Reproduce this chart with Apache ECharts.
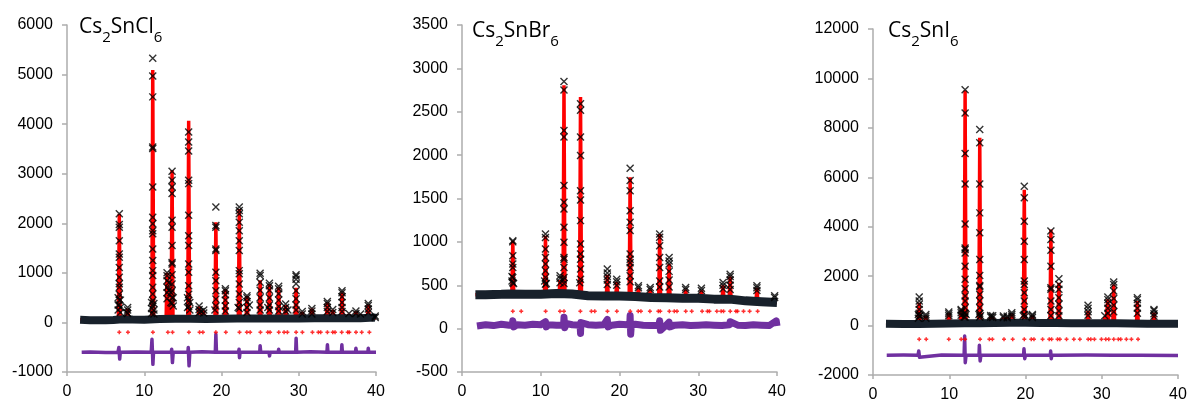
<!DOCTYPE html>
<html>
<head>
<meta charset="utf-8">
<script src="https://cdn.jsdelivr.net/npm/echarts@6/dist/echarts.min.js"></script>
<style>
html,body{margin:0;padding:0;background:#fff;}
#c{width:1190px;height:403px;}
</style>
</head>
<body>
<div id="c"></div>
<script>
// ---------- Panel 1: Cs2SnCl6 ----------
var p1ObsBg = [[1.7,55],[3,45],[5,45],[6,50],[7.2,65],[8.5,60],[10,55],[12,70],[14,75],[16,75],[18,70],[20,75],[22,80],[24,80],[26,80],[28,80],[30,80],[32,85],[34,85],[36,85],[38,85],[39.8,100],[40,90]];
var p1ObsPk = [
 [6.77,2190],[6.77,1975],[6.77,1920],[6.77,1650],[6.77,1380],[6.77,1315],[6.77,1110],[6.77,910],[6.77,780],[6.77,710],[6.77,570],[6.77,450],[6.77,350],[6.62,500],[6.62,350],[6.62,250],[6.92,450],[6.92,300],[6.92,200],
 [7.85,300],[7.85,250],[7.85,180],[7.75,200],
 [11.1,5330],[11.1,4970],[11.1,4550],[11.1,3540],[11.1,3510],[11.1,2730],[11.1,2120],[11.1,1990],[11.1,1850],[11.1,1790],[11.1,1480],[11.1,1250],[11.1,1045],[11.1,945],[11.1,710],[11.1,575],[11.1,440],[11.1,330],[10.95,400],[10.95,280],[10.95,180],[11.25,380],[11.25,250],[11.25,170],
 [12.95,1000],[12.95,940],[12.95,840],[12.95,710],[12.95,600],[12.95,480],[13.2,800],[13.2,650],
 [13.6,3050],[13.6,2870],[13.6,2730],[13.6,2600],[13.6,2060],[13.6,1920],[13.6,1550],[13.6,1210],[13.6,1180],[13.6,960],[13.6,775],[13.6,640],[13.6,500],[13.6,380],[13.45,600],[13.45,400],[13.75,500],[13.75,330],
 [15.75,3840],[15.75,3640],[15.75,3460],[15.75,2870],[15.75,2800],[15.75,2160],[15.75,1750],[15.75,1550],[15.75,1180],[15.75,1010],[15.75,740],[15.75,570],[15.75,440],[15.75,320],[15.6,500],[15.6,300],[15.9,400],[15.9,250],
 [17.1,330],[17.1,260],[17.1,200],[17.7,250],[17.7,190],[17.35,220],
 [19.27,2330],[19.27,1955],[19.27,1920],[19.27,1480],[19.27,1450],[19.27,1010],[19.27,840],[19.27,640],[19.27,470],[19.27,330],[19.15,250],
 [20.5,680],[20.5,640],[20.5,560],[20.5,450],[20.5,330],[20.5,230],
 [22.3,2330],[22.3,2260],[22.3,2190],[22.3,2020],[22.3,1850],[22.3,1650],[22.3,1450],[22.3,1045],[22.3,980],[22.3,775],[22.3,575],[22.3,400],[22.3,280],[22.15,300],
 [23.3,540],[23.3,500],[23.3,420],[23.3,300],[23.3,200],[23.6,350],
 [25.0,990],[25.0,945],[25.0,810],[25.0,650],[25.0,500],[25.0,350],[25.0,250],
 [26.2,790],[26.2,740],[26.2,650],[26.2,500],[26.2,350],[26.2,250],[26.0,300],
 [27.4,730],[27.4,680],[27.4,580],[27.4,450],[27.4,320],[27.4,230],
 [28.3,370],[28.3,300],[28.3,230],[28.6,250],
 [29.65,960],[29.65,930],[29.65,870],[29.65,780],[29.65,640],[29.65,480],[29.65,350],[29.65,250],
 [30.45,220],[30.45,170],[31.7,280],[31.7,230],[31.7,170],
 [33.7,420],[33.7,380],[33.7,300],[33.7,220],[34.4,260],[34.4,200],
 [35.6,640],[35.6,600],[35.6,520],[35.6,400],[35.6,300],[35.6,220],
 [36.5,180],[37.4,230],[37.4,180],[38.0,170],
 [39.0,380],[39.0,340],[39.0,270],[39.0,200],[39.9,130],[39.9,100]
];
var p1Calc = [[1.7,55],[6.65,55],[6.77,2190],[6.89,55],[7.73,60],[7.85,280],[7.97,60],[10.98,60],[11.1,5090],[11.22,60],[12.83,70],[12.95,1000],[13.07,70],[13.48,70],[13.6,3070],[13.72,70],[15.63,75],[15.75,4066],[15.87,75],[16.98,75],[17.1,320],[17.22,75],[17.53,70],[17.65,240],[17.77,70],[19.15,75],[19.27,2020],[19.39,75],[20.38,75],[20.5,670],[20.62,75],[22.18,80],[22.3,2290],[22.42,80],[23.18,80],[23.3,530],[23.42,80],[24.88,80],[25.0,850],[25.12,80],[26.08,80],[26.2,775],[26.32,80],[27.28,80],[27.4,710],[27.52,80],[28.18,80],[28.3,350],[28.42,80],[29.53,80],[29.65,700],[29.77,80],[30.33,80],[30.45,210],[30.57,80],[31.58,85],[31.7,280],[31.82,85],[33.58,85],[33.7,400],[33.82,85],[34.28,85],[34.4,250],[34.52,85],[35.48,85],[35.6,600],[35.72,85],[36.38,85],[36.5,170],[36.62,85],[37.28,85],[37.4,220],[37.52,85],[37.88,85],[38.0,160],[38.12,85],[38.88,85],[39.0,360],[39.12,85],[40,90]];
var p1Bragg = [6.77,7.89,11.12,13.06,13.66,15.78,17.16,17.59,19.27,20.56,22.33,23.28,23.71,25.04,25.99,26.29,27.41,28.10,28.53,29.66,30.47,31.77,32.54,32.84,33.71,34.40,34.70,35.56,36.34,36.55,37.41,38.15,39.14];
var p1BraggLevel = -200;
var p1Diff = [[1.9,-600],[3,-595],[5,-605],[6.6,-600],[6.72,-505],[6.82,-740],[6.9,-600],[9,-595],[10.9,-600],[11.0,-340],[11.12,-845],[11.2,-600],[13.5,-600],[13.55,-540],[13.65,-810],[13.75,-600],[15.65,-600],[15.7,-505],[15.8,-875],[15.9,-600],[17.5,-590],[19.2,-600],[19.27,-235],[19.35,-600],[22.2,-600],[22.27,-540],[22.33,-710],[22.4,-600],[24.95,-600],[25.0,-470],[25.08,-600],[26.15,-600],[26.22,-675],[26.3,-600],[27.35,-600],[27.4,-540],[27.47,-600],[29.6,-600],[29.66,-320],[29.73,-600],[31.5,-590],[33.65,-600],[33.71,-450],[33.78,-600],[35.53,-600],[35.58,-450],[35.65,-600],[37.35,-600],[37.4,-520],[37.47,-600],[38.95,-600],[39.0,-520],[39.07,-600],[40,-600]];

// ---------- Panel 2: Cs2SnBr6 ----------
var p2ObsBg = [[1.7,390],[3,390],[5,395],[6,400],[8,395],[10,395],[12,405],[14,400],[16,380],[18,375],[20,375],[22,370],[24,360],[26,355],[28,350],[30,350],[32,340],[34,340],[36,320],[38,310],[40,300]];
var p2ObsPk = [
 [6.45,1013],[6.45,1000],[6.45,840],[6.45,744],[6.45,705],[6.45,590],[6.45,530],[6.35,600],[6.35,550],[6.55,520],
 [10.6,1090],[10.6,1050],[10.6,917],[10.6,820],[10.6,744],[10.6,667],[10.6,590],[10.6,512],[10.5,550],[10.7,520],
 [12.45,610],[12.45,580],[12.45,530],
 [12.95,2850],[12.95,2750],[12.95,2285],[12.95,2210],[12.95,1650],[12.95,1457],[12.95,1380],[12.95,1168],[12.95,995],[12.95,820],[12.95,800],[12.95,705],[12.95,590],[12.95,520],[12.85,560],
 [15.05,2593],[15.05,2516],[15.05,2210],[15.05,1996],[15.05,1590],[15.05,1484],[15.05,1245],[15.05,975],[15.05,860],[15.05,800],[15.05,686],[15.05,570],[14.95,530],
 [18.45,686],[18.45,640],[18.45,600],[18.45,560],[18.45,510],
 [19.65,570],[19.65,540],[19.65,500],
 [21.35,1850],[21.35,1707],[21.35,1590],[21.35,1360],[21.35,1225],[21.35,1130],[21.35,860],[21.35,800],[21.35,760],[21.35,705],[21.35,610],[21.35,540],
 [22.4,493],[22.4,470],[23.9,474],[23.9,450],
 [25.1,1090],[25.1,1052],[25.1,955],[25.1,820],[25.1,705],[25.1,550],[25.1,480],
 [26.3,820],[26.3,780],[26.3,744],[26.3,660],[26.3,560],[26.3,480],
 [28.4,474],[28.4,450],[30.4,466],[30.4,440],
 [33.15,532],[33.15,500],[33.15,460],
 [34.05,628],[34.05,600],[34.05,560],[34.05,500],[34.05,450],
 [37.45,493],[37.45,470],[37.45,440],[39.7,380],[39.7,360]
];
var p2Calc = [[1.7,390],[6.33,400],[6.45,1013],[6.57,400],[10.48,395],[10.6,1070],[10.72,395],[12.33,405],[12.45,560],[12.57,405],[12.83,405],[12.95,2805],[13.07,405],[14.93,400],[15.05,2670],[15.17,400],[18.33,375],[18.45,620],[18.57,375],[19.53,375],[19.65,540],[19.77,375],[21.23,370],[21.35,1745],[21.47,370],[22.28,370],[22.4,470],[22.52,370],[23.78,360],[23.9,450],[24.02,360],[24.98,355],[25.1,1090],[25.22,355],[26.18,355],[26.3,744],[26.42,355],[28.28,350],[28.4,450],[28.52,350],[30.28,350],[30.4,440],[30.52,350],[33.03,340],[33.15,500],[33.27,340],[33.93,340],[34.05,600],[34.17,340],[37.33,310],[37.45,470],[37.57,310],[40,300]];
var p2Bragg = [6.45,7.52,10.62,12.44,12.95,15.03,16.43,16.86,18.47,19.66,21.36,22.38,22.72,23.86,24.93,25.18,26.33,26.96,27.30,28.41,29.17,30.49,31.17,31.42,32.36,32.91,33.21,34.06,34.78,34.99,35.75,36.52,37.54];
var p2BraggLevel = 200;
var p2Diff = [[1.9,30],[3,45],[4,35],[5,50],[6,40],[6.4,40],[6.45,90],[6.55,20],[7,45],[8,40],[9,50],[10,45],[10.6,80],[10.7,20],[11,45],[12,40],[12.9,40],[12.95,130],[13.05,10],[13.2,60],[14,45],[15,40],[15.05,-55],[15.1,70],[16,45],[17,40],[18,45],[18.45,105],[18.55,20],[19,40],[20,50],[21,45],[21.3,40],[21.35,150],[21.42,-65],[21.5,40],[22,50],[23,40],[24,35],[25,40],[25.1,90],[25.2,-20],[26,45],[26.3,75],[26.4,20],[27,40],[28,45],[29,35],[30,40],[31,45],[32,40],[33,35],[34,45],[34.05,80],[35,40],[36,35],[37,45],[38,40],[39,35],[39.9,90],[40,30]];

// ---------- Panel 3: Cs2SnI6 ----------
var p3ObsBg = [[1.7,70],[4,60],[6,60],[8,70],[10,80],[12,90],[14,90],[16,100],[18,110],[20,110],[22,100],[24,100],[26,90],[28,90],[30,90],[32,90],[34,80],[36,70],[38,70],[40,70]];
var p3ObsPk = [
 [6.06,1155],[6.06,990],[6.06,860],[6.06,655],[6.06,500],[6.06,380],[5.95,450],[5.95,300],[6.15,400],
 [6.93,450],[6.93,380],[6.93,300],[9.94,545],[9.94,480],[9.94,400],
 [11.56,655],[11.56,600],[11.56,520],[11.56,420],
 [12.08,9545],[12.08,8600],[12.08,6960],[12.08,5730],[12.08,4110],[12.08,3140],[12.08,3075],[12.08,2940],[12.08,2400],[12.08,1870],[12.08,1490],[12.08,1195],[12.08,990],[12.08,725],[12.08,500],[12.08,350],[11.95,500],[11.95,350],[12.2,450],
 [14.0,7935],[14.0,7395],[14.0,5730],[14.0,4560],[14.0,3755],[14.0,2675],[14.0,2030],[14.0,1625],[14.0,1570],[14.0,1260],[14.0,990],[14.0,720],[14.0,500],[14.0,350],[13.9,450],[14.1,400],
 [15.44,410],[15.44,350],[15.7,400],[15.7,330],[17.1,385],[17.1,330],[17.6,380],[17.6,320],
 [18.2,520],[18.2,450],[18.2,380],
 [19.84,5640],[19.84,5170],[19.84,4225],[19.84,3415],[19.84,2675],[19.84,1800],[19.84,1665],[19.84,1330],[19.84,990],[19.84,655],[19.84,450],[19.7,400],[20.0,380],
 [20.9,450],[20.9,400],[20.9,330],
 [23.33,3825],[23.33,3485],[23.33,3050],[23.33,2400],[23.33,1530],[23.33,1465],[23.33,990],[23.33,655],[23.33,400],
 [24.38,1895],[24.38,1665],[24.38,1465],[24.38,1130],[24.38,860],[24.38,590],[24.38,400],
 [28.2,820],[28.2,700],[28.2,560],[28.2,420],[30.4,400],
 [30.8,1155],[30.8,1050],[30.8,900],[30.8,700],[30.8,500],
 [31.57,1760],[31.57,1665],[31.57,1400],[31.57,1100],[31.57,820],[31.57,560],
 [34.67,1130],[34.67,1050],[34.67,900],[34.67,700],[34.67,500],
 [36.85,655],[36.85,600],[36.85,480],[36.85,380]
];
var p3Calc = [[1.7,70],[5.94,60],[6.06,925],[6.18,60],[6.81,60],[6.93,380],[7.05,60],[9.82,80],[9.94,500],[10.06,80],[11.44,90],[11.56,600],[11.68,90],[11.96,90],[12.08,9515],[12.2,90],[13.88,90],[14.0,7595],[14.12,90],[15.32,100],[15.44,350],[15.56,100],[15.58,100],[15.7,330],[15.82,100],[16.98,105],[17.1,330],[17.22,105],[17.48,110],[17.6,320],[17.72,110],[18.08,110],[18.2,480],[18.32,110],[19.72,110],[19.84,5500],[19.96,110],[20.78,105],[20.9,400],[21.02,105],[23.21,100],[23.33,3890],[23.45,100],[24.26,100],[24.38,1730],[24.5,100],[28.08,90],[28.2,590],[28.32,90],[30.28,90],[30.4,350],[30.52,90],[30.68,90],[30.8,1060],[30.92,90],[31.45,90],[31.57,1665],[31.69,90],[34.55,80],[34.67,990],[34.79,80],[36.73,70],[36.85,520],[36.97,70],[40,70]];
var p3Bragg = [6.06,6.98,9.94,11.56,12.08,14.04,15.26,15.66,17.18,18.32,19.84,20.76,21.11,22.24,23.11,23.42,24.20,24.51,25.38,26.34,27.13,28.22,28.56,29.04,29.96,30.53,30.92,31.57,32.18,32.49,33.23,33.89,34.76];
var p3BraggLevel = -550;
var p3Diff = [[1.8,-1200],[4,-1195],[5.9,-1200],[6.0,-1030],[6.1,-1280],[6.2,-1200],[9,-1195],[11.95,-1200],[12.02,-425],[12.1,-1500],[12.2,-1200],[13.9,-1200],[13.95,-800],[14.05,-1430],[14.15,-1200],[17.4,-1200],[17.5,-1130],[17.6,-1200],[19.75,-1200],[19.8,-940],[19.9,-1340],[20.0,-1200],[23.25,-1200],[23.3,-1030],[23.38,-1340],[23.45,-1200],[24.3,-1200],[24.35,-1150],[24.45,-1250],[24.5,-1200],[28,-1195],[31.5,-1200],[31.55,-1150],[31.6,-1230],[31.7,-1200],[35,-1205],[40,-1210]];

// ---------- axis settings (values) ----------
var xRange = {min:0, max:40, interval:10};
var yRanges = [{min:-1000,max:6000,interval:1000},{min:-500,max:3500,interval:500},{min:-2000,max:12000,interval:2000}];
var titles = [['Cs','2','SnCl','6'],['Cs','2','SnBr','6'],['Cs','2','SnI','6']];

var panels = [
 {obsBg:p1ObsBg, obsPk:p1ObsPk, calc:p1Calc, bragg:p1Bragg, level:p1BraggLevel, diff:p1Diff, bgW:8, diffW:3.5},
 {obsBg:p2ObsBg, obsPk:p2ObsPk, calc:p2Calc, bragg:p2Bragg, level:p2BraggLevel, diff:p2Diff, bgW:9, diffW:7},
 {obsBg:p3ObsBg, obsPk:p3ObsPk, calc:p3Calc, bragg:p3Bragg, level:p3BraggLevel, diff:p3Diff, bgW:8, diffW:3.5}
];

var grids = [
 {left:67, right:814, top:25, bottom:31},
 {left:462, right:413, top:25, bottom:31},
 {left:873, right:12, top:29, bottom:27}
];
var titlePos = [{left:79,top:17},{left:472,top:21},{left:888,top:21}];

var axisColor = '#adadad';
var X_SYM = 'path://M0,0L10,10M10,0L0,10';
var P_SYM = 'path://M5,0L5,10M0,5L10,5';
function plain(v){ return String(v); }

var option = {
  animation:false,
  backgroundColor:'#fff',
  grid: grids,
  title: titles.map(function(t,i){
    return {
      left:titlePos[i].left, top:titlePos[i].top, padding:0,
      text:'{m|'+t[0]+'}{s|'+t[1]+'}{m|'+t[2]+'}{s|'+t[3]+'}',
      textStyle:{fontWeight:'normal', rich:{
        m:{fontFamily:'Open Sans',fontSize:21,fontWeight:'normal',color:'#000',lineHeight:27,verticalAlign:'top'},
        s:{fontFamily:'Open Sans',fontSize:15,fontWeight:'normal',color:'#000',lineHeight:16,padding:[13,0,0,0],verticalAlign:'top'}
      }}
    };
  }),
  xAxis: [0,1,2].map(function(i){
    return {gridIndex:i, type:'value', min:xRange.min, max:xRange.max, interval:xRange.interval,
      axisLine:{show:true,onZero:false,lineStyle:{color:axisColor,width:1.5}},
      axisTick:{show:true,inside:false,length:4,lineStyle:{color:axisColor,width:1.5}},
      splitLine:{show:false},
      axisLabel:{fontFamily:'Liberation Sans',fontSize:16,color:'#000',margin:12,formatter:plain}};
  }),
  yAxis: [0,1,2].map(function(i){
    return {gridIndex:i, type:'value', min:yRanges[i].min, max:yRanges[i].max, interval:yRanges[i].interval,
      axisLine:{show:true,onZero:false,lineStyle:{color:axisColor,width:1.5}},
      axisTick:{show:true,inside:false,length:5,lineStyle:{color:axisColor,width:1.5}},
      splitLine:{show:false},
      axisLabel:{fontFamily:'Liberation Sans',fontSize:16,color:'#000',margin:14,formatter:plain}};
  }),
  series: []
};

panels.forEach(function(p,i){
  option.series.push({type:'line', xAxisIndex:i, yAxisIndex:i, data:p.calc, showSymbol:false, z:1,
    lineStyle:{color:'#ff0000', width:3.5}, silent:true});
  option.series.push({type:'line', xAxisIndex:i, yAxisIndex:i, data:p.obsBg, showSymbol:false, z:2,
    lineStyle:{color:'#18212b', width:p.bgW}, silent:true});
  option.series.push({type:'scatter', xAxisIndex:i, yAxisIndex:i, data:p.obsPk, symbol:X_SYM, symbolSize:7, z:3,
    itemStyle:{color:'rgba(0,0,0,0)', borderColor:'#000', borderWidth:1.4}, silent:true});
  option.series.push({type:'scatter', xAxisIndex:i, yAxisIndex:i, data:p.bragg.map(function(x){return [x,p.level];}),
    symbol:P_SYM, symbolSize:4, z:3, itemStyle:{color:'rgba(0,0,0,0)', borderColor:'#ff0000', borderWidth:1.5}, silent:true});
  option.series.push({type:'line', xAxisIndex:i, yAxisIndex:i, data:p.diff, showSymbol:false, z:2,
    lineStyle:{color:'#7030a0', width:p.diffW, join:'round'}, silent:true});
});

var chart = echarts.init(document.getElementById('c'), null, {renderer:'canvas'});
chart.setOption(option);
</script>
</body>
</html>
